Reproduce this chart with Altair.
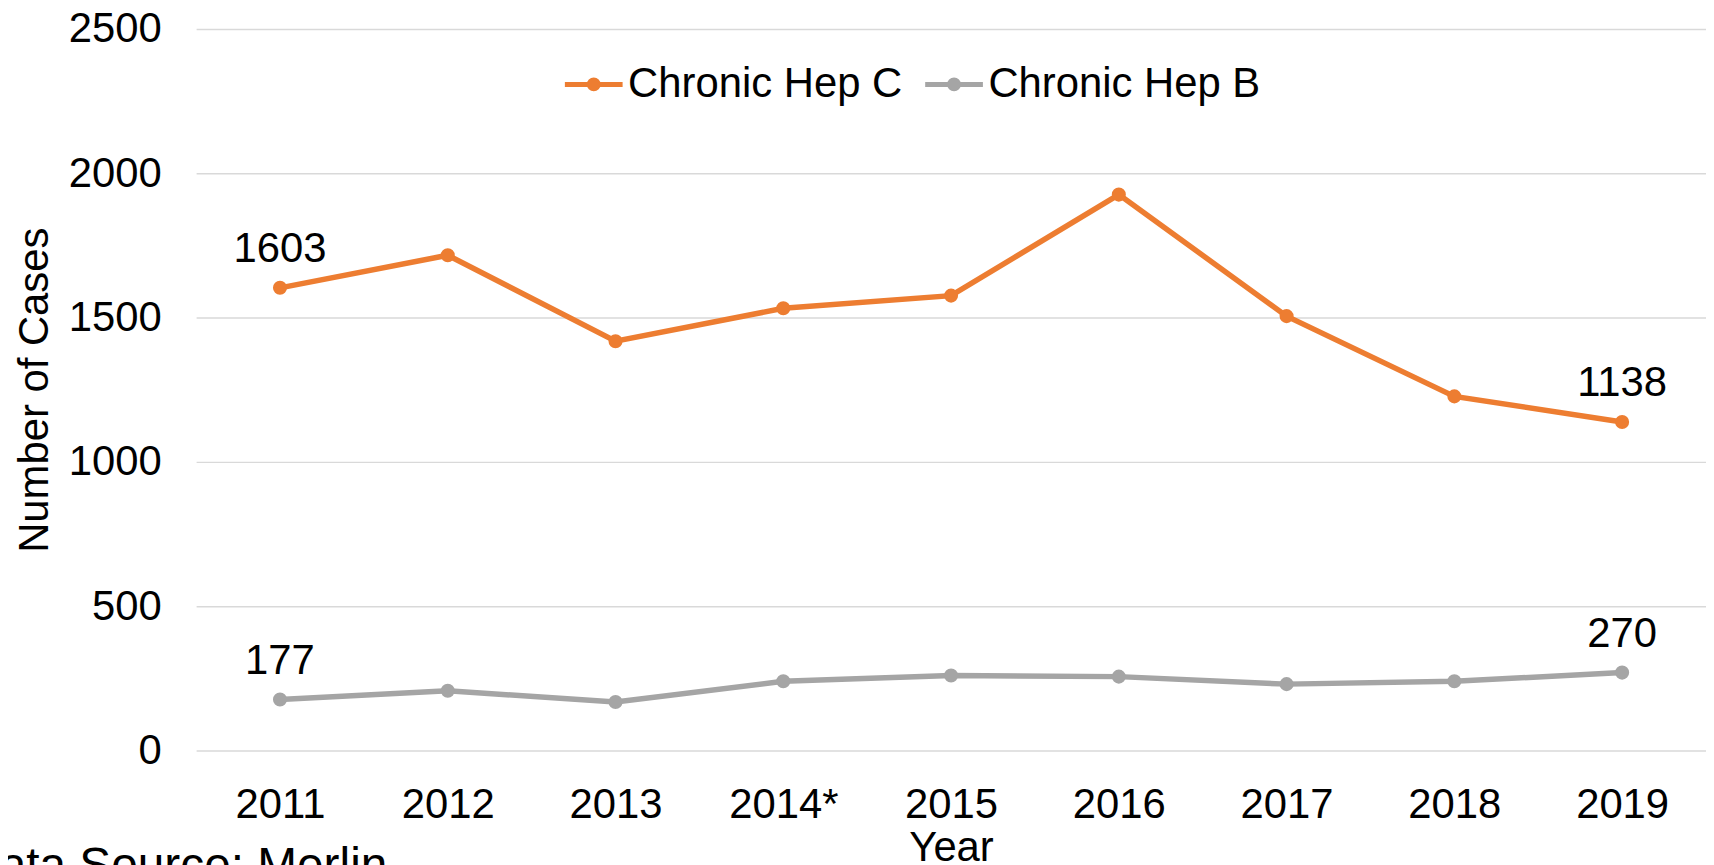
import altair as alt
import pandas as pd

# ---- data ----
years = ["2011", "2012", "2013", "2014*", "2015", "2016", "2017", "2018", "2019"]
hep_c = [1603, 1716, 1418, 1532, 1576, 1926, 1505, 1227, 1138]
hep_b = [177, 207, 168, 240, 260, 256, 230, 240, 270]
series_names = ["Chronic Hep C", "Chronic Hep B"]
series_colors = ["#ED7D31", "#A5A5A5"]
labelled_years = ["2011", "2019"]
y_ticks = [0, 500, 1000, 1500, 2000, 2500]

df = pd.DataFrame({
    "Year": years * 2,
    "Series": [series_names[0]] * len(years) + [series_names[1]] * len(years),
    "Cases": hep_c + hep_b,
})

FONT = "Liberation Sans"
FS = 42

# legend symbol: a line with a (filled-looking) dot in the middle
circ = ""
for r in (0.034, 0.103, 0.155):
    circ += f"M{-r},0A{r},{r} 0 1,0 {r},0A{r},{r} 0 1,0 {-r},0"
SYMBOL = "M-1,0L1,0" + circ

x_enc = alt.X(
    "Year:O", sort=years,
    scale=alt.Scale(type="point", padding=0.5),
    axis=alt.Axis(title="Year", labelAngle=0, labelFontSize=FS, labelFont=FONT,
                  labelColor="black", labelPadding=34, ticks=False, tickSize=0,
                  domain=False, grid=False, titleFontSize=FS, titleFont=FONT,
                  titleFontWeight="normal", titleColor="black", titlePadding=2),
)
y_enc = alt.Y(
    "Cases:Q",
    scale=alt.Scale(domain=[0, 2500], nice=False),
    axis=alt.Axis(title="Number of Cases", values=y_ticks, format="d",
                  labelFontSize=FS, labelFont=FONT, labelColor="black",
                  labelPadding=35, ticks=False, tickSize=0, domain=False,
                  grid=True, gridColor="#D9D9D9", gridWidth=1.5,
                  titleFontSize=FS, titleFont=FONT, titleFontWeight="normal",
                  titleColor="black", titlePadding=12),
)
color_enc = alt.Color(
    "Series:N", sort=series_names,
    scale=alt.Scale(domain=series_names, range=series_colors),
    legend=alt.Legend(title=None, orient="none", direction="horizontal",
                      legendX=368, legendY=24, symbolType=SYMBOL,
                      symbolSize=3364, symbolStrokeWidth=5, labelFontSize=FS,
                      labelFont=FONT, labelColor="black", labelOffset=3,
                      columnPadding=12, padding=0, labelLimit=1000,
                      symbolOpacity=1),
)

lines = alt.Chart(df).mark_line(
    strokeWidth=5.5,
    point=alt.OverlayMarkDef(filled=True, size=200, opacity=1),
).encode(x=x_enc, y=y_enc, color=color_enc)

labels = alt.Chart(df).transform_filter(
    alt.FieldOneOfPredicate(field="Year", oneOf=labelled_years)
).mark_text(fontSize=FS, font=FONT, color="black", baseline="middle", dy=-39).encode(
    x=x_enc, y=y_enc, text="Cases:Q"
)

chart = alt.layer(lines, labels).properties(
    width=1517,
    height=725,
    autosize=alt.AutoSizeParams(type="none"),
    padding={"left": 189, "top": 19, "right": 0, "bottom": 113},
    title=alt.TitleParams(text="Data Source: Merlin", orient="bottom",
                          anchor="start", frame="group", fontSize=48,
                          font=FONT, fontWeight="normal", color="black",
                          dx=-232, dy=-25, offset=0),
).configure_view(stroke=None)

chart.save("out.html", embed_options={"renderer": "svg", "actions": False})
